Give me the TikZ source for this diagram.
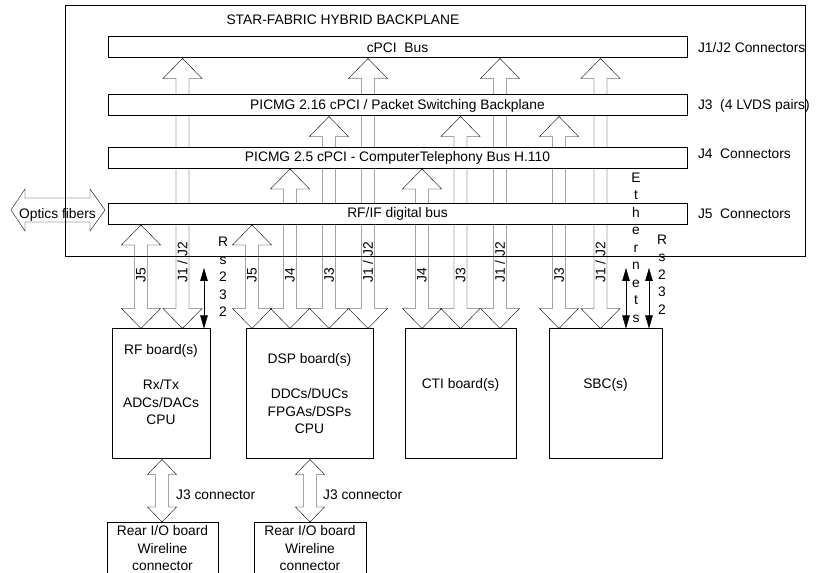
\documentclass[tikz,border=0pt]{standalone}
\usepackage{fontspec}
\setmainfont{Liberation Sans}
\usetikzlibrary{positioning, calc, arrows.meta, backgrounds}

% hollow double-headed block arrow between two anchors
% #1 = x, #2 = upper anchor, #3 = lower anchor, #4 = half head width, #5 = head length
\newcommand{\fatlink}[5]{%
    \draw let \p1=(#2), \p2=(#3) in
        (#1,\y1) -- (#1+#4,\y1-#5) -- (#1+6.5,\y1-#5) -- (#1+6.5,\y2+#5)
        -- (#1+#4,\y2+#5) -- (#1,\y2) -- (#1-#4,\y2+#5) -- (#1-6.5,\y2+#5)
        -- (#1-6.5,\y1-#5) -- (#1-#4,\y1-#5) -- cycle;
}

\begin{document}
\begin{tikzpicture}[
        x=1pt, y=1pt,
        line width=1pt,
        >={Triangle[length=13pt, width=7.5pt]},
        every node/.style={font=\fontsize{13.8}{17.5}\selectfont},
        % bus bars of the backplane
        bus/.style={draw, fill=white, minimum width=579pt, minimum height=21pt, inner sep=0pt},
        % plug-in boards
        board/.style={draw, minimum height=130pt, inner sep=0pt},
        rearbox/.style={draw, minimum height=70pt, inner sep=0pt, anchor=north},
        conlabel/.style={inner sep=0pt, anchor=west},
        shaftlabel/.style={inner sep=0pt, anchor=west, rotate=90},
        stack/.style={align=center, inner sep=0pt}
    ]
    \useasboundingbox (0,0) rectangle (817,573);

    % 1. Backplane frame and title
    \node[draw, minimum width=740pt, minimum height=251pt, inner sep=0pt] (backplane) at (435,441.5) {};
    \node[conlabel] (title) at (226,553) {STAR-FABRIC HYBRID BACKPLANE};

    % 2. Bus bars with connector labels
    \node[bus] (cpci) at (397.5,525.5) {cPCI\ \ Bus};
    \node[bus] (pkt)  at (397.5,467.5) {PICMG 2.16 cPCI / Packet Switching Backplane};
    \node[bus] (htel) at (397.5,415)   {PICMG 2.5 cPCI - ComputerTelephony Bus H.110};
    \node[bus] (rfif) at (397.5,359)   {RF/IF digital bus};

    \node[conlabel, right=10pt of cpci] {J1/J2 Connectors};
    \node[conlabel, right=10pt of pkt]  {J3\ \ (4 LVDS pairs)};
    \node[conlabel, right=10pt of htel, yshift=4pt] {J4\ \ Connectors};
    \node[conlabel, right=10pt of rfif] {J5\ \ Connectors};

    % 3. Boards
    \node[board, minimum width=98pt]  (rf)  at (161,179)   {};
    \node[board, minimum width=127pt] (dsp) at (309.5,179) {};
    \node[board, minimum width=111pt] (cti) at (460.5,179) {};
    \node[board, minimum width=113pt] (sbc) at (605.5,179) {};

    \node[stack] at ([yshift=9pt]rf.center) {RF board(s)\\[17.5pt]Rx/Tx\\ADCs/DACs\\CPU};
    \node[stack] at (dsp.center) {DSP board(s)\\[17.5pt]DDCs/DUCs\\FPGAs/DSPs\\CPU};
    \node[stack] at ([yshift=9pt]cti.center) {CTI board(s)};
    \node[stack] at ([yshift=9pt]sbc.center) {SBC(s)};

    % 4. Rear I/O boards
    \node[rearbox, minimum width=111pt] (rfrear)  at (162.5,51) {};
    \node[rearbox, minimum width=112pt] (dsprear) at (310,51)   {};
    \node[stack] at (162.5,24.5) {Rear I/O board\\Wireline\\connector};
    \node[stack] at (310,24.5)   {Rear I/O board\\Wireline\\connector};

    % 5. Block arrows (behind the bus bars)
    \begin{pgfonlayer}{background}
    \foreach \xpos/\src/\dst/\lbl in {
            141/rfif/rf/J5, 182.5/cpci/rf/{J1 / J2},
            252/rfif/dsp/J5, 290/htel/dsp/J4, 329/pkt/dsp/J3, 368/cpci/dsp/{J1 / J2},
            422/htel/cti/J4, 460.5/pkt/cti/J3, 500/cpci/cti/{J1 / J2},
            559/pkt/sbc/J3, 600.5/cpci/sbc/{J1 / J2}} {
        \fatlink{\xpos}{\src.south}{\dst.north}{19.5}{20}
        \node[shaftlabel] at (\xpos,290) {\lbl};
    }
    \fatlink{162}{rf.south}{rfrear.north}{14.5}{15}
    \fatlink{310}{dsp.south}{dsprear.north}{14.5}{15}
    \end{pgfonlayer}
    \node[conlabel] at (176,78) {J3 connector};
    \node[conlabel] at (323,78) {J3 connector};

    % 6. Optics fibers
    \draw (105,363) -- ++(-15,-21) -- ++(0,9) -- ++(-65,0) -- ++(0,-9) -- ++(-14,21)
        -- ++(14,21) -- ++(0,-9) -- ++(65,0) -- ++(0,9) -- cycle;
    \node (optics) at (57.5,358) {Optics fibers};

    % 7. Serial and Ethernet links
    \coordinate (rsrf)  at (204,305);
    \coordinate (eth)   at (626,305);
    \coordinate (rssbc) at (649,305);
    \draw[<->] (rsrf) -- (rsrf |- rf.north);
    \draw[<->] (eth) -- (eth |- sbc.north);
    \draw[<->] (rssbc) -- (rssbc |- sbc.north);
    \node[stack] at (223,296)   {R\\s\\2\\3\\2};
    \node[stack] at (636,325.5) {E\\t\\h\\e\\r\\n\\e\\t\\s};
    \node[stack] at (662,298.5) {R\\s\\2\\3\\2};

\end{tikzpicture}
\end{document}
